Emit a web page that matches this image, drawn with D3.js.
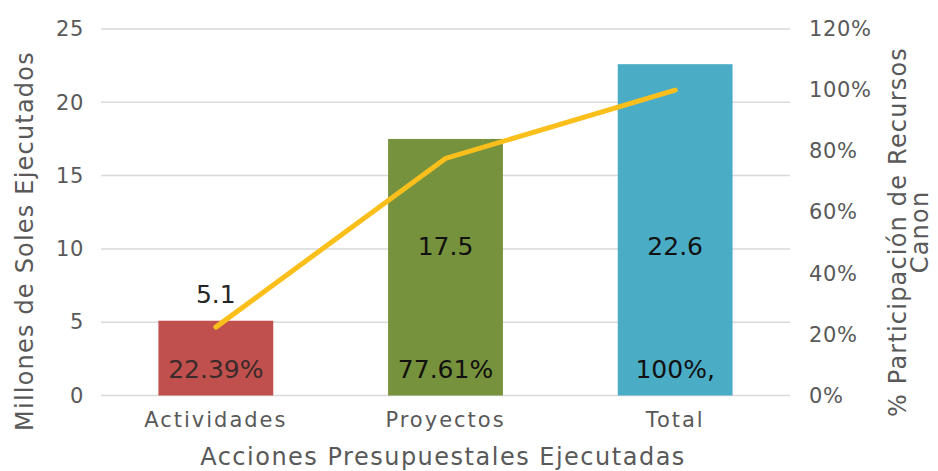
<!DOCTYPE html>
<html>
<head>
<meta charset="utf-8">
<script src="https://cdn.jsdelivr.net/npm/d3@7"></script>
<style>
  body { margin: 0; background: #fff; }
  .main { width: 938px; height: 471px; }
  text { font-family: "DejaVu Sans", sans-serif; }
</style>
</head>
<body>
<div class="main"></div>
<script>
const categories = ["Actividades", "Proyectos", "Total"]
const soles = [5.1, 17.5, 22.6]
const participacion = [22.39, 77.61, 100]
const pctLabels = ["22.39%", "77.61%", "100%,"]
const leftTicks = [0, 5, 10, 15, 20, 25]
const rightTicks = [0, 20, 40, 60, 80, 100, 120]
const barColors = ["#c0504d", "#76923c", "#4bacc6"]

const W = 938, H = 471
const margin = { top: 29, right: 148, bottom: 75, left: 101 }
const font = "'DejaVu Sans', sans-serif"

const svg = d3.select(".main")
    .append("svg")
    .attr("width", W)
    .attr("height", H)

const x = d3.scaleBand()
    .domain(categories)
    .range([margin.left, W - margin.right])
    .paddingInner(0.5)
    .paddingOuter(0.25)

const y = d3.scaleLinear()
    .domain([0, 25])
    .range([H - margin.bottom - 0.5, margin.top])

const y2 = d3.scaleLinear()
    .domain([0, 120])
    .range([H - margin.bottom - 0.5, margin.top])

// gridlines
svg.append("g")
    .selectAll("line")
    .data(leftTicks)
    .join("line")
    .attr("x1", margin.left)
    .attr("x2", W - margin.right)
    .attr("y1", d => y(d))
    .attr("y2", d => y(d))
    .attr("stroke", "#d9d9d9")
    .attr("stroke-width", 1.5)

function styleTicks(g) {
    g.select(".domain").remove()
    g.selectAll("text")
        .attr("font-size", 21)
        .attr("fill", "#595959")
        .style("font-family", font)
        .style("letter-spacing", "0.6px")
}

// left axis
svg.append("g")
    .attr("transform", `translate(${margin.left - 17}, 0)`)
    .call(d3.axisLeft(y).tickValues(leftTicks).tickSize(0).tickPadding(0))
    .call(styleTicks)

// right axis
svg.append("g")
    .attr("transform", `translate(${W - margin.right + 19}, 0)`)
    .call(d3.axisRight(y2).tickValues(rightTicks).tickSize(0).tickPadding(0).tickFormat(d => d + "%"))
    .call(styleTicks)

// bottom axis
svg.append("g")
    .attr("transform", `translate(0, ${H - margin.bottom})`)
    .call(d3.axisBottom(x).tickSize(0).tickPadding(16))
    .call(styleTicks)
    .selectAll("text")
    .style("letter-spacing", "2px")

// bars
svg.append("g")
    .selectAll("rect")
    .data(categories)
    .join("rect")
    .attr("x", d => x(d))
    .attr("width", x.bandwidth())
    .attr("y", (d, i) => y(soles[i]))
    .attr("height", (d, i) => y(0) - y(soles[i]))
    .attr("fill", (d, i) => barColors[i])

// line
const line = d3.line()
    .x((d, i) => x(categories[i]) + x.bandwidth() / 2)
    .y(d => y2(d))

svg.append("path")
    .datum(participacion)
    .attr("d", line)
    .attr("fill", "none")
    .attr("stroke", "#fbbf1c")
    .attr("stroke-width", 5)
    .attr("stroke-linecap", "round")

// value labels
svg.append("g")
    .selectAll("text")
    .data(soles)
    .join("text")
    .attr("x", (d, i) => x(categories[i]) + x.bandwidth() / 2)
    .attr("y", d => d > 10 ? y(10.2) + 9 : y(d) - 18)
    .attr("text-anchor", "middle")
    .attr("font-size", 25)
    .attr("fill", (d, i) => i == 0 ? "#262626" : "#111")
    .text(d => d.toFixed(1))

svg.append("g")
    .selectAll("text")
    .data(pctLabels)
    .join("text")
    .attr("x", (d, i) => x(categories[i]) + x.bandwidth() / 2)
    .attr("y", y(0) - 18)
    .attr("text-anchor", "middle")
    .attr("font-size", 25)
    .attr("fill", (d, i) => i == 0 ? "#3a2a2a" : "#111")
    .text(d => d)

// axis titles
svg.append("text")
    .attr("transform", `translate(33, 241) rotate(-90)`)
    .attr("text-anchor", "middle")
    .attr("font-size", 24)
    .attr("fill", "#595959")
    .style("letter-spacing", "1.2px")
    .text("Millones de Soles Ejecutados")

svg.append("text")
    .attr("x", 443)
    .attr("y", 465)
    .attr("text-anchor", "middle")
    .attr("font-size", 24)
    .attr("fill", "#595959")
    .style("letter-spacing", "1.5px")
    .text("Acciones Presupuestales Ejecutadas")

const rt = svg.append("text")
    .attr("transform", `translate(906, 232) rotate(-90)`)
    .attr("text-anchor", "middle")
    .attr("font-size", 24)
    .attr("fill", "#595959")
    .style("letter-spacing", "1.2px")
rt.append("tspan").attr("x", 0).attr("dy", 0).text("% Participación de Recursos")
rt.append("tspan").attr("x", 0).attr("dy", 22).text("Canon")
</script>
</body>
</html>
